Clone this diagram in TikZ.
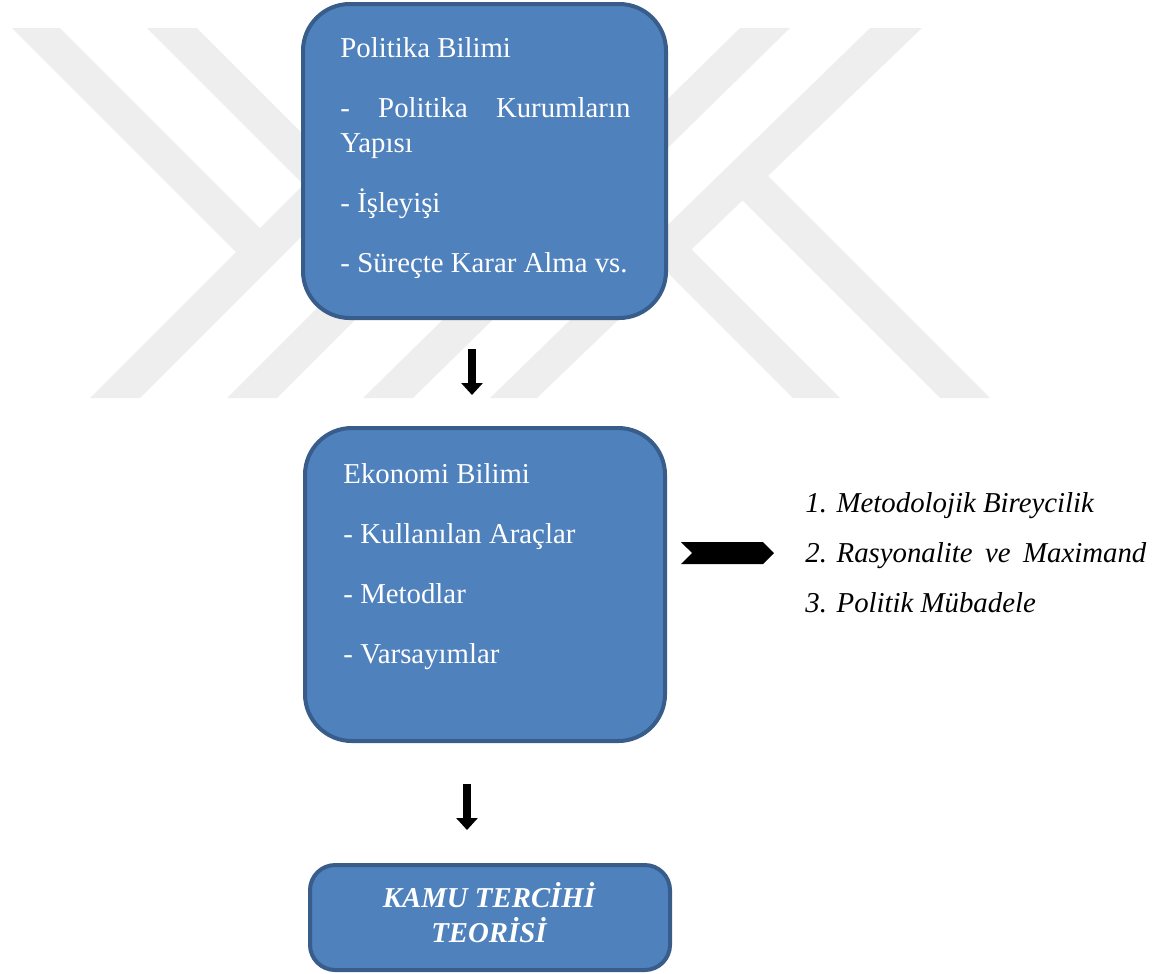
\documentclass[tikz,border=0pt]{standalone}
\usepackage{fontspec}
\setmainfont{Liberation Serif}
\usetikzlibrary{arrows.meta, calc, fit, shapes.symbols}

\definecolor{boxfill}{HTML}{4F81BD}
\definecolor{boxline}{HTML}{385D8A}
\definecolor{markgray}{HTML}{EEEEEE}

\begin{document}
\begin{tikzpicture}[x=0.41667pt, y=-0.41667pt,
    area/.style={draw=boxline, line width=1.67pt, fill=boxfill, rounded corners=19.5pt, inner sep=0pt},
    areatext/.style={text=white, align=left, anchor=base west, inner sep=0pt, font=\fontsize{12}{14.2}\selectfont},
    flow/.style={line width=3.6pt, -{Triangle[width=8.75pt, length=5pt]}}]
    \useasboundingbox (0,0) rectangle (1152,973);

    % --- Watermark (background) ---
    \fill[markgray] (12,28) -- (60,28) -- (272.5,240.5) -- (248.5,264.5) -- cycle;
    \fill[markgray] (147,28) -- (197,28) -- (409.5,240.5) -- (384.5,265.5) -- cycle;
    \fill[markgray] (460,28) -- (510,28) -- (140,398) -- (90,398) -- cycle;
    \fill[markgray] (597,28) -- (647,28) -- (277,398) -- (227,398) -- cycle;
    \fill[markgray] (740,28) -- (790,28) -- (413,398) -- (363,398) -- cycle;
    \fill[markgray] (870,28) -- (922,28) -- (537,398) -- (490,398) -- cycle;
    \fill[markgray] (650,255) -- (677,235) -- (840,398) -- (793,398) -- cycle;
    \fill[markgray] (732,190) -- (762,170) -- (990,398) -- (940,398) -- cycle;

    % --- Boxes (texts sit on the baseline of their last line) ---
    \node[area, fit={(303,4) (666,318)}] (pol) {};
    \node[areatext] (poltxt) at (340,272) {Politika Bilimi\\[10.8pt]
        \makebox[120.8pt][s]{- Politika Kurumların}\\
        Yapısı\\[10.8pt]
        - İşleyişi\\[10.8pt]
        - Süreçte Karar Alma vs.};

    \node[area, fit={(305,428) (665,741)}] (eko) {};
    \node[areatext] (ekotxt) at (343,663) {Ekonomi Bilimi\\[10.8pt]
        - Kullanılan Araçlar\\[10.8pt]
        - Metodlar\\[10.8pt]
        - Varsayımlar};

    \node[area, rounded corners=10.5pt, fit={(310,865) (670,970)}] (kamu) {};
    \node[areatext, align=center, anchor=base, font=\bfseries\itshape\fontsize{12}{14.2}\selectfont]
        (kamutxt) at (489,942) {KAMU TERCİHİ\\TEORİSİ};

    % --- Assumptions on the right ---
    \node[shape=signal, signal from=west, signal to=east, fill=black, inner sep=0pt,
        minimum width=38.75pt, minimum height=9.17pt] (link) at (727.5,553) {};
    \node[align=left, anchor=base west, inner sep=0pt, font=\itshape\fontsize{12}{20.8}\selectfont] (tenets) at (805,612)
        {1. Metodolojik Bireycilik\\
         2. \makebox[129pt][s]{Rasyonalite ve Maximand}\\
         3. Politik Mübadele};

    % --- Downward arrows ---
    \draw[flow] ($(pol.south)+(-12.5,29)$) -- ($(eko.north)+(-13,-31)$);
    \draw[flow] ($(eko.south)+(-18,41)$) -- ($(kamu.north)+(-23,-33)$);
\end{tikzpicture}
\end{document}
